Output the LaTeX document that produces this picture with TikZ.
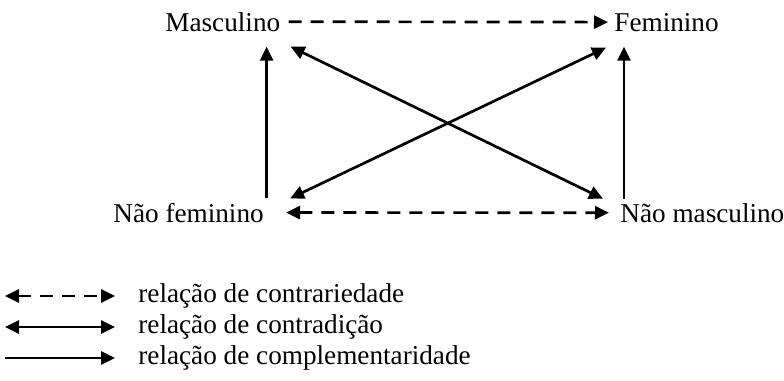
\documentclass[tikz,border=0pt]{standalone}
\usepackage{fontspec}
\setmainfont{Liberation Serif}
\usetikzlibrary{arrows.meta}
\tikzset{
	rel/.style={line width=1.35pt, -{Triangle[length=7pt,width=6.5pt]}},
	relboth/.style={line width=1.35pt, {Triangle[length=7pt,width=6.5pt]}-{Triangle[length=7pt,width=6.5pt]}},
	reldash/.style={dash pattern=on 6.5pt off 4.5pt},
	term/.style={inner sep=0pt, anchor=base west, font=\fontsize{13.6}{16}\selectfont}
}

\begin{document}
\begin{tikzpicture}[x=0.5pt, y=-0.5pt]
			%%%%% START %%%%%
			\useasboundingbox (0, 0) rectangle (784, 381);
			
			\node[term] (mas) at (165, 31) {Masculino};
			\node[term] (fem) at (614, 31) {Feminino};
			\node[term] (nfem) at (113, 222) {Não feminino};
			\node[term] (nmas) at (620, 222) {Não masculino};
			
			\draw[rel, reldash] ([xshift=4pt]mas.east) -- ([xshift=-3pt]fem.west);
			\draw[relboth, reldash] ([xshift=11pt]nfem.east) -- ([xshift=-5.5pt]nmas.west);
			
			\draw[rel] ([xshift=-7pt]mas.south east |- nfem.north) ++(0, -4) -- ([xshift=-7pt, yshift=-7.5pt]mas.south east);
			\draw[rel] ([xshift=5pt]fem.south west |- nmas.north) ++(0, -4) -- ([xshift=5pt, yshift=-7.5pt]fem.south west);
			
			\draw[relboth] ([xshift=5pt, yshift=-7.5pt]mas.south east) -- ([xshift=-8.5pt, yshift=2pt]nmas.north west);
			\draw[relboth] ([xshift=13pt, yshift=2pt]nfem.north east) -- ([xshift=-4pt, yshift=-8pt]fem.south west);
			
			%%%%% LEGEND %%%%%
			\node[term] (lg1) at (138, 302) {relação de contrariedade};
			\node[term] (lg2) at (138, 333) {relação de contradição};
			\node[term] (lg3) at (138, 364) {relação de complementaridade};
			
			\coordinate (k1) at (5, 296);
			\coordinate (k2) at (5, 327);
			\coordinate (k3) at (5, 358);
			
			\draw[relboth, reldash] (k1) -- ([xshift=-11.5pt]k1 -| lg1.west);
			\draw[relboth] (k2) -- ([xshift=-11.5pt]k2 -| lg2.west);
			\draw[rel] (k3) -- ([xshift=-11.5pt]k3 -| lg3.west);
			
			%%%%% END %%%%%
\end{tikzpicture}
\end{document}
